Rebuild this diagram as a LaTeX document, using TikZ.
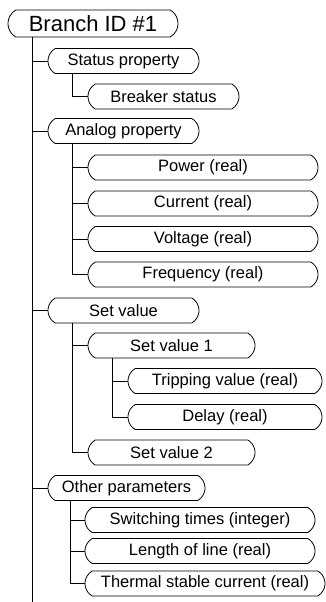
\documentclass[tikz,border=0pt]{standalone}
\usepackage{fontspec}
\setmainfont{Liberation Sans}
\usetikzlibrary{shapes.misc}
\tikzset{
  box/.style={rounded rectangle, rounded rectangle arc length=120, draw, line width=0.8pt,
    inner sep=0pt, minimum height=25pt, font=\fontsize{16.5}{18}\selectfont},
  link/.style={line width=0.8pt}
}
\begin{document}
\begin{tikzpicture}[x=1pt,y=-1pt]
\useasboundingbox (0,0) rectangle (326,602);
\node[box, minimum width=170pt, minimum height=27pt, font=\fontsize{22}{24}\selectfont] (root) at (93,23.5) {Branch ID \#1};
\node[box, minimum width=151pt] (status) at (123.5,61) {Status property};
\node[box, minimum width=151pt] (breaker) at (163.5,96.5) {Breaker status};
\node[box, minimum width=151pt] (analog) at (123.5,131) {Analog property};
\node[box, minimum width=230pt] (power) at (203,167.5) {Power (real)};
\node[box, minimum width=230pt] (current) at (203,203.5) {Current (real)};
\node[box, minimum width=230pt] (voltage) at (203,239) {Voltage (real)};
\node[box, minimum width=230pt] (freq) at (203,274.5) {Frequency (real)};
\node[box, minimum width=151pt] (setv) at (123.5,310.5) {Set value};
\node[box, minimum width=167pt] (setv1) at (171.5,345.5) {Set value 1};
\node[box, minimum width=194pt] (trip) at (225,381) {Tripping value (real)};
\node[box, minimum width=194pt] (delay) at (225,417) {Delay (real)};
\node[box, minimum width=167pt] (setv2) at (171.5,452.5) {Set value 2};
\node[box, minimum width=157pt] (other) at (126.5,488) {Other parameters};
\node[box, minimum width=230pt] (switch) at (200,520) {Switching times (integer)};
\node[box, minimum width=230pt] (length) at (200,551) {Length of line (real)};
\node[box, minimum width=240pt] (thermal) at (205,583.5) {Thermal stable current (real)};
\coordinate (tk) at (32,0);
\coordinate (tkend) at (32,602);
\coordinate (va) at (72,0);
\coordinate (vb) at (112,0);
\coordinate (vc) at (70,0);
% trunk
\draw[link] (root.south -| tk) -- (tkend);
\foreach \n in {status,analog,setv,other} \draw[link] (\n.west -| tk) -- (\n.west);
% status
\draw[link] (status.south -| va) |- (breaker.west);
% analog
\draw[link] (analog.south -| va) |- (freq.west);
\foreach \n in {power,current,voltage} \draw[link] (\n.west -| va) -- (\n.west);
% set value
\draw[link] (setv.south -| va) |- (setv2.west);
\draw[link] (setv1.west -| va) -- (setv1.west);
\draw[link] (setv1.south -| vb) |- (delay.west);
\draw[link] (trip.west -| vb) -- (trip.west);
% other
\draw[link] (other.south -| vc) |- (thermal.west);
\foreach \n in {switch,length} \draw[link] (\n.west -| vc) -- (\n.west);
\end{tikzpicture}
\end{document}
